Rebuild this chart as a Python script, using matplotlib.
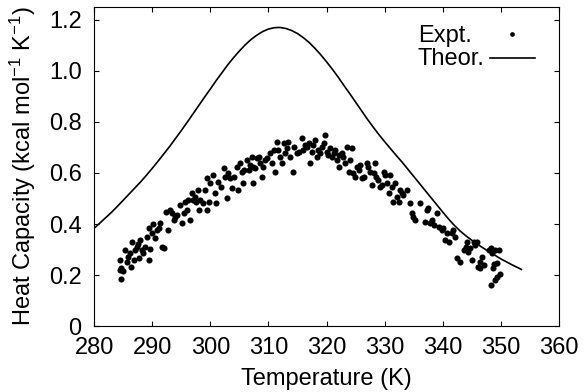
import matplotlib
matplotlib.use("Agg")
import matplotlib.pyplot as plt

plt.rcParams['font.family'] = ['Liberation Sans', 'DejaVu Sans']
plt.rcParams['mathtext.fontset'] = 'custom'
plt.rcParams['mathtext.rm'] = 'Liberation Sans'
plt.rcParams['mathtext.it'] = 'Liberation Sans'

# Theoretical curve (T in K, Cp in kcal/mol/K)
theor_T = [280, 281, 282, 283, 284, 285, 286, 287, 288, 289, 290, 291, 292,
           293, 294, 295, 296, 297, 298, 299, 300, 301, 302, 303, 304, 305,
           306, 307, 308, 309, 310, 311, 311.7, 312, 313, 314, 315, 316, 317,
           318, 319, 320, 321, 322, 323, 324, 325, 326, 327, 328, 329, 330,
           331, 332, 333, 334, 335, 336, 337, 338, 339, 340, 341, 342, 343,
           344, 345, 346, 347, 348, 349, 350, 351, 352, 353, 353.5]
theor_C = [0.383, 0.404, 0.425, 0.446, 0.469, 0.493, 0.517, 0.541, 0.565,
           0.591, 0.618, 0.646, 0.675, 0.704, 0.735, 0.766, 0.798, 0.831,
           0.864, 0.897, 0.929, 0.962, 0.993, 1.024, 1.052, 1.078, 1.102,
           1.123, 1.140, 1.154, 1.164, 1.169, 1.170, 1.170, 1.166, 1.158,
           1.146, 1.130, 1.111, 1.088, 1.063, 1.035, 1.006, 0.975, 0.942,
           0.910, 0.877, 0.844, 0.811, 0.780, 0.750, 0.722, 0.695, 0.668,
           0.642, 0.614, 0.586, 0.558, 0.530, 0.502, 0.474, 0.446, 0.419,
           0.394, 0.372, 0.353, 0.336, 0.320, 0.305, 0.291, 0.277, 0.263,
           0.251, 0.239, 0.228, 0.222]

# Experimental points
expt_T = [284.4, 284.6, 285.3, 285.6, 285.9, 286.2, 286.3, 286.5, 286.8, 287.1,
          287.3, 287.6, 287.8, 287.9, 288.2, 288.5, 288.8, 289.1, 289.4, 289.5,
          289.6, 289.9, 290.2, 290.5, 290.8, 291.1, 291.4, 291.6, 292.0, 292.4,
          292.8, 293.0, 293.4, 293.7, 293.9, 294.3, 294.8, 295.1, 295.4, 295.7,
          295.9, 296.2, 296.5, 296.8, 297.1, 297.4, 297.6, 297.8, 298.0, 298.2,
          298.8, 299.1, 299.4, 299.5, 299.7, 300.0, 300.5, 300.8, 301.0, 301.4,
          301.8, 302.3, 302.5, 302.8, 303.1, 303.4, 303.7, 304.0, 304.6, 304.8,
          305.1, 305.4, 305.7, 305.8, 306.3, 306.6, 306.8, 307.1, 307.3, 307.4,
          307.7, 308.0, 308.3, 308.6, 308.9, 309.0, 309.4, 309.7, 310.3, 310.6,
          310.9, 311.2, 311.4, 311.7, 312.0, 312.3, 312.6, 312.9, 313.2, 313.4,
          313.7, 314.3, 314.4, 314.9, 315.2, 315.7, 316.0, 316.3, 316.6, 316.9,
          317.2, 317.5, 317.7, 318.0, 318.3, 318.6, 318.9, 319.2, 319.5, 319.8,
          320.0, 320.3, 320.6, 320.9, 321.2, 321.5, 321.8, 322.1, 322.2, 322.6,
          322.9, 323.2, 323.5, 323.8, 324.1, 324.3, 324.6, 324.9, 325.2, 325.5,
          325.8, 326.1, 326.4, 326.9, 327.2, 327.5, 327.8, 328.1, 328.4, 328.5,
          328.9, 329.2, 329.5, 329.8, 330.1, 330.4, 330.7, 330.9, 331.2, 331.5,
          331.8, 332.1, 332.4, 332.7, 333.0, 333.2, 333.8, 334.3, 334.7, 334.8,
          335.2, 336.1, 337.0, 337.3, 337.5, 337.8, 338.1, 338.4, 339.0, 339.3,
          339.8, 340.1, 340.4, 340.7, 341.0, 341.6, 341.8, 342.1, 342.4, 343.0,
          343.6, 343.9, 344.1, 344.4, 344.7, 345.0, 345.3, 345.6, 345.9, 346.1,
          346.4, 346.7, 347.0, 347.9, 348.2, 348.4, 348.7, 349.0, 349.3, 349.6,
          284.7, 284.4, 285.0, 348.2, 348.9, 349.3, 349.8, 346.4, 348.8]
expt_C = [0.261, 0.226, 0.298, 0.252, 0.272, 0.285, 0.233, 0.331, 0.261, 0.298,
          0.311, 0.322, 0.265, 0.337, 0.298, 0.285, 0.311, 0.350, 0.261, 0.383,
          0.301, 0.363, 0.400, 0.344, 0.376, 0.383, 0.403, 0.311, 0.305, 0.448,
          0.376, 0.455, 0.442, 0.416, 0.429, 0.435, 0.475, 0.403, 0.442, 0.488,
          0.455, 0.494, 0.416, 0.520, 0.494, 0.507, 0.488, 0.533, 0.455, 0.494,
          0.481, 0.533, 0.455, 0.579, 0.488, 0.559, 0.592, 0.520, 0.481, 0.566,
          0.546, 0.618, 0.586, 0.501, 0.599, 0.579, 0.540, 0.586, 0.625, 0.533,
          0.638, 0.605, 0.559, 0.612, 0.651, 0.612, 0.631, 0.664, 0.559, 0.625,
          0.618, 0.658, 0.664, 0.638, 0.586, 0.625, 0.651, 0.658, 0.677, 0.638,
          0.690, 0.605, 0.723, 0.690, 0.664, 0.638, 0.716, 0.677, 0.697, 0.723,
          0.664, 0.605, 0.703, 0.677, 0.684, 0.736, 0.690, 0.710, 0.703, 0.716,
          0.638, 0.684, 0.710, 0.729, 0.664, 0.690, 0.677, 0.703, 0.716, 0.749,
          0.684, 0.671, 0.697, 0.664, 0.677, 0.690, 0.651, 0.671, 0.625, 0.677,
          0.664, 0.638, 0.703, 0.605, 0.651, 0.697, 0.599, 0.586, 0.625, 0.612,
          0.631, 0.579, 0.586, 0.638, 0.625, 0.605, 0.553, 0.599, 0.638, 0.586,
          0.573, 0.546, 0.553, 0.605, 0.592, 0.559, 0.520, 0.592, 0.546, 0.488,
          0.559, 0.507, 0.488, 0.533, 0.520, 0.514, 0.533, 0.481, 0.442, 0.429,
          0.416, 0.481, 0.409, 0.455, 0.461, 0.403, 0.416, 0.396, 0.442, 0.390,
          0.376, 0.383, 0.337, 0.363, 0.331, 0.363, 0.376, 0.350, 0.265, 0.252,
          0.298, 0.311, 0.331, 0.292, 0.305, 0.259, 0.331, 0.318, 0.331, 0.233,
          0.252, 0.272, 0.239, 0.298, 0.305, 0.285, 0.226, 0.298, 0.246, 0.298,
          0.183, 0.220, 0.215, 0.163, 0.180, 0.193, 0.204, 0.226, 0.243]

x_ticks = [280, 290, 300, 310, 320, 330, 340, 350, 360]
y_ticks = [0, 0.2, 0.4, 0.6, 0.8, 1.0, 1.2]
y_tick_labels = ["0", "0.2", "0.4", "0.6", "0.8", "1.0", "1.2"]
legend_labels = ["Expt.", "Theor."]

FS = 17

fig = plt.figure(figsize=(5.88, 3.92), dpi=100)
ax = fig.add_axes([0.160, 0.168, 0.791, 0.814])

ax.plot(expt_T, expt_C, linestyle='none', marker='o', markersize=4.4,
        color='black', markeredgewidth=0)
ax.plot(theor_T, theor_C, color='black', linewidth=1.2)

ax.set_xlim(280, 360)
ax.set_ylim(0, 1.25)
ax.set_xticks(x_ticks)
ax.set_yticks(y_ticks)
ax.set_yticklabels(y_tick_labels)
ax.tick_params(direction='in', length=3.8, width=0.8, top=True, right=True,
               labelsize=FS)
ax.tick_params(axis='x', pad=8)
ax.tick_params(axis='y', pad=9)
for s in ax.spines.values():
    s.set_linewidth(0.8)

ax.set_xlabel('Temperature (K)', fontsize=FS, labelpad=6)
ax.set_ylabel('Heat Capacity (kcal mol$^{-1}$ K$^{-1}$)', fontsize=FS, labelpad=8)

# Key (gnuplot style: left-aligned text, sample on the right)
ax.text(0.697, 0.890, legend_labels[0], transform=ax.transAxes,
        fontsize=FS, ha='left', va='baseline')
ax.text(0.695, 0.818, legend_labels[1], transform=ax.transAxes,
        fontsize=FS, ha='left', va='baseline')
ax.plot([0.899], [0.915], transform=ax.transAxes, linestyle='none',
        marker='o', markersize=3.4, color='black', markeredgewidth=0)
ax.plot([0.852, 0.948], [0.840, 0.840], transform=ax.transAxes,
        color='black', linewidth=1.2)

fig.savefig('out.png', dpi=100)
